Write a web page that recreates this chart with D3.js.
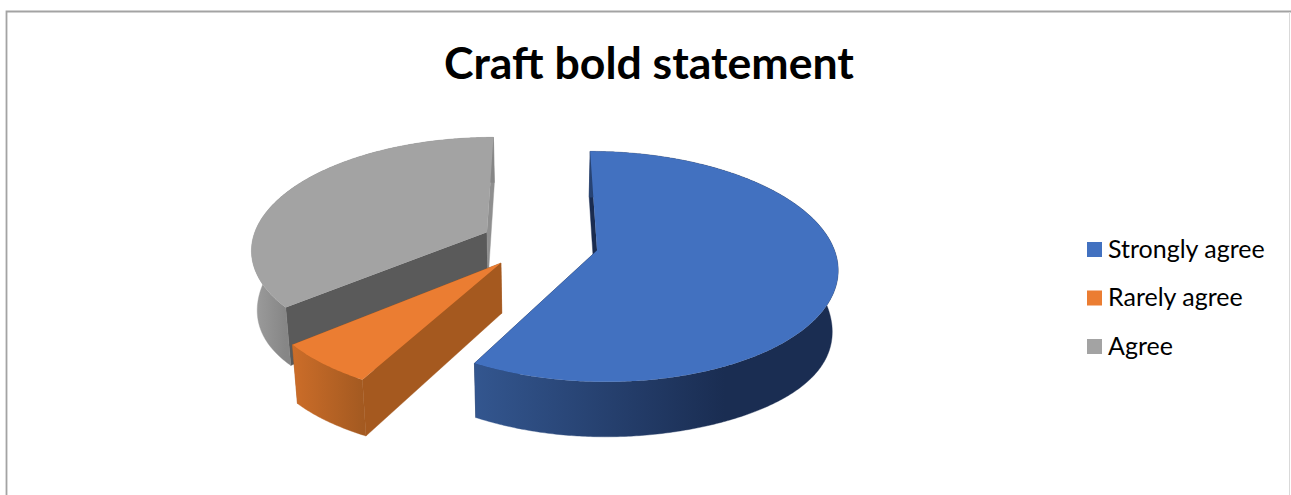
<!DOCTYPE html>
<html>
<head>
<meta charset="utf-8">
<script src="https://cdn.jsdelivr.net/npm/d3@7/dist/d3.min.js"></script>
<style>
  html, body { margin: 0; padding: 0; background: #fff; }
  svg { display: block; }
  text { font-family: Lato, "Open Sans", sans-serif; fill: #000; }
</style>
</head>
<body>
<svg id="chart" width="1291" height="495"></svg>
<script>
// Survey responses, in percent
const categories = ["Strongly agree", "Rarely agree", "Agree"];
const shares = [58, 6, 36];
const chartTitle = "Craft bold statement";

// Face colours per slice
const topColors = ["#4271C0", "#EB7D32", "#A3A3A3"];
const rimStops = [["#33568f", "#1a2d52"], ["#cc6d29", "#a45a21"], ["#9c9c9c", "#868686"]];
const cutColors = [["#1a2c50", "#1a2c50"], ["#a5591f", "#a5591f"], ["#5a5a5a", "#8f8f8f"]];

// Exploded slice offsets on the pie plane, in radii
const explodeU = [0.236, -0.166, -0.233];
const explodeV = [0.030, 0.140, -0.135];

// Camera: a tilted disc seen in perspective
const view = { cx: 541, cy: 247, radius: 236.5, tilt: 112, fall: 0.14, depth: 49.6, depthGrow: 0.04, shrink: 0.98, sideSag: 10 };

function project(u, v, lower) {
  const s = 1 / (1 - view.fall * v);
  const x = view.cx + view.radius * u * s;
  const y = view.cy + view.tilt * v * s;
  if (!lower) return [x, y];
  // The underside sags a little towards the far left and right of the disc
  const side = Math.pow(Math.abs(x - view.cx) / 291, 4) * view.sideSag;
  return [view.cx + (x - view.cx) * view.shrink, y + view.depth + (y - view.cy) * view.depthGrow + side];
}

const svg = d3.select("#chart");
const defs = svg.append("defs");
const line = d3.line();

const pie = d3.pie().sort(null).value(d => d).startAngle(0).endAngle(2 * Math.PI);
const slices = pie(shares);

// Plane coordinates of a rim point at pie angle a (clockwise from the back)
const rimPoint = (i, a) => [explodeU[i] + Math.sin(a), explodeV[i] - Math.cos(a)];
const apexPoint = i => [explodeU[i], explodeV[i]];

function rimAngles(d) {
  const steps = Math.ceil((d.endAngle - d.startAngle) / 0.01);
  return d3.range(steps + 1).map(k => d.startAngle + (d.endAngle - d.startAngle) * k / steps);
}

function wall(p, q) {
  return [project(p[0], p[1], false), project(q[0], q[1], false), project(q[0], q[1], true), project(p[0], p[1], true)];
}

function face(parent, points, fill) {
  return parent.append("path")
    .attr("d", line(points) + "Z")
    .attr("fill", fill)
    .attr("stroke", fill)
    .attr("stroke-width", 0.4);
}

slices.map((d, i) => ({ d, i })).reverse().forEach(({ d, i }) => {
  const g = svg.append("g").attr("class", "slice");
  const rim = rimAngles(d).map(a => rimPoint(i, a));
  const apex = apexPoint(i);

  // Back cut first, so the rim and the front cut paint over it
  const upperRim = rim.map(p => project(p[0], p[1], false));
  const lowerRim = rim.map(p => project(p[0], p[1], true)).reverse();
  const extent = d3.extent(upperRim.concat(lowerRim), p => p[1]);

  const startCut = face(g, wall(apex, rim[0]), cutColors[i][0]);
  face(g, wall(apex, rim[rim.length - 1]), cutColors[i][1]);

  // Rim shading runs left to right across the lit front of the slice
  const frontRim = upperRim.filter(p => p[1] > view.cy + 20);
  const xSpan = d3.extent(frontRim, p => p[0]);
  const gradientId = "rim" + i;
  const gradient = defs.append("linearGradient")
    .attr("id", gradientId)
    .attr("gradientUnits", "userSpaceOnUse")
    .attr("x1", xSpan[0]).attr("x2", i === 0 ? xSpan[0] + 250 : xSpan[1])
    .attr("y1", extent[0]).attr("y2", extent[0]);
  gradient.selectAll("stop").data(rimStops[i]).join("stop")
    .attr("offset", (c, k) => k)
    .attr("stop-color", c => c);

  face(g, upperRim.concat(lowerRim), `url(#${gradientId})`);
  if (i === 1) g.node().appendChild(startCut.node());

  g.append("path")
    .attr("d", line([project(apex[0], apex[1], false)].concat(upperRim)) + "Z")
    .attr("fill", topColors[i]);
});

// Title
svg.append("text")
  .attr("x", 649).attr("y", 79)
  .attr("text-anchor", "middle")
  .attr("font-size", 44.6)
  .attr("font-weight", 700)
  .text(chartTitle);

// Legend
const legendY = d3.scalePoint().domain(categories).range([249.5, 346.5]);
const legend = svg.append("g").selectAll("g").data(categories).join("g")
  .attr("transform", c => `translate(1087,${legendY(c)})`);
legend.append("rect")
  .attr("x", 0).attr("y", -7.5).attr("width", 15).attr("height", 15)
  .attr("fill", (c, i) => topColors[i]);
legend.append("text")
  .attr("x", 21).attr("y", 8)
  .attr("font-size", 25)
  .text(c => c);

// Chart area border: heavier on the left and top, hairline on the right
svg.append("path")
  .attr("d", line([[6.5, 495], [6.5, 11.5], [1291, 11.5]]))
  .attr("fill", "none")
  .attr("stroke", "#a3a3a3")
  .attr("stroke-width", 1.8);
svg.append("path")
  .attr("d", line([[1289.5, 12], [1289.5, 495]]))
  .attr("fill", "none")
  .attr("stroke", "#d9d9d9")
  .attr("stroke-width", 1);
</script>
</body>
</html>
